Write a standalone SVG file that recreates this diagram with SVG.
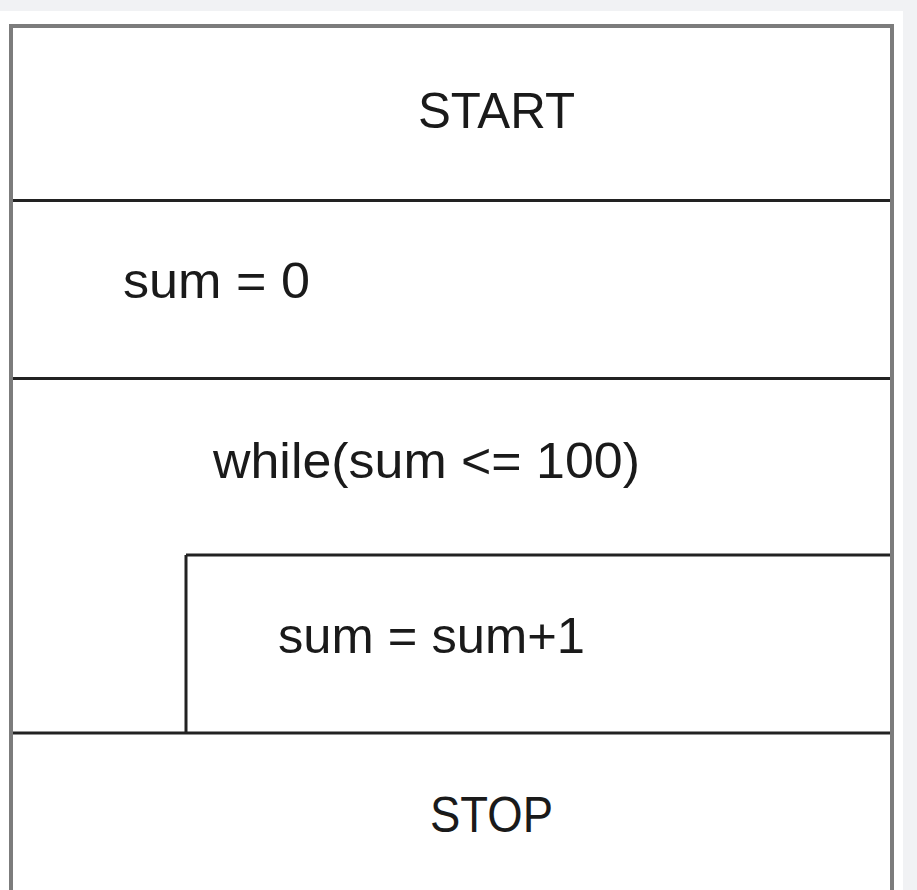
<svg xmlns="http://www.w3.org/2000/svg" width="917" height="890" viewBox="0 0 917 890">
<style>
.frame{fill:none;stroke:#7c7c7c;stroke-width:4}
.ln{stroke:#222;stroke-width:3;fill:none}
.t{font-family:"Liberation Sans",Arial,sans-serif;font-size:50px;fill:#1a1a1a}
</style>
<rect x="0" y="0" width="917" height="890" fill="#f1f2f4"/>
<rect x="0" y="11" width="903" height="879" fill="#ffffff"/>
<g id="start">
<text class="t" x="418" y="128" textLength="157" lengthAdjust="spacingAndGlyphs">START</text>
</g>
<g id="init">
<text class="t" x="123" y="298" textLength="187" lengthAdjust="spacingAndGlyphs">sum = 0</text>
</g>
<g id="loop">
<text class="t" x="213" y="478" textLength="427" lengthAdjust="spacingAndGlyphs">while(sum &lt;= 100)</text>
</g>
<g id="body">
<text class="t" x="278" y="653" textLength="307" lengthAdjust="spacingAndGlyphs">sum = sum+1</text>
</g>
<g id="stop">
<text class="t" x="430" y="832" textLength="123" lengthAdjust="spacingAndGlyphs">STOP</text>
</g>
<g id="connectors">
<path class="ln" d="M11 200.5H892 M11 378.5H892 M186 555H892 M11 733H892 M186 555V733"/>
<path class="frame" d="M11 892V26H892V892"/>
</g>
</svg>
